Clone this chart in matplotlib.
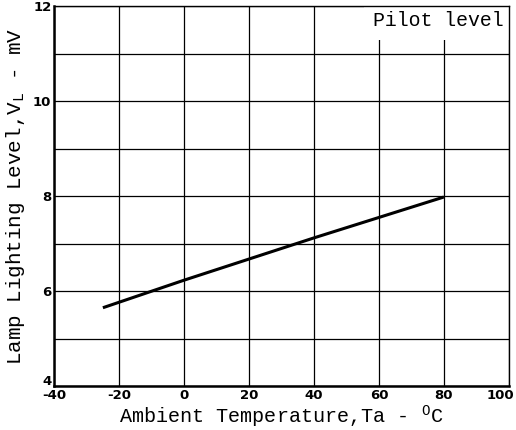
import numpy as np
import matplotlib
matplotlib.use("Agg")
import matplotlib.pyplot as plt
from matplotlib import transforms

# data
temp_c = [-25, 0, 40, 80]
lamp_mv = [5.65, 6.23, 7.12, 7.98]

x_ticks = [-40, -20, 0, 20, 40, 60, 80, 100]
x_labels = ["-40", "-20", "0", "20", "40", "60", "80", "100"]
y_ticks = [4, 6, 8, 10, 12]
y_grid = [4, 5, 6, 7, 8, 9, 10, 11, 12]

plt.rcParams['mathtext.default'] = 'regular'
mono = "Liberation Mono"

fig = plt.figure(figsize=(5.16, 4.30), dpi=100)
ax = fig.add_axes([0.105, 0.102, 0.881, 0.884])

ax.plot(temp_c, lamp_mv, color='black', lw=2.2, solid_capstyle='butt', zorder=3)

ax.set_xlim(-40, 100)
ax.set_ylim(4, 12)
ax.set_xticks(x_ticks)
ax.set_xticklabels(x_labels)
ax.set_yticks(y_ticks)
ax.set_yticks(y_grid, minor=True)
ax.grid(True, which='both', axis='y', color='black', lw=0.9)
ax.grid(True, which='major', axis='x', color='black', lw=0.9)
ax.tick_params(which='both', length=0, pad=2)
for lab in ax.get_xticklabels() + ax.get_yticklabels():
    lab.set_fontweight('bold')
    lab.set_fontsize(9.5)
    lab.set_fontfamily('DejaVu Sans')

# nudge the corner labels like in the original print
xl = ax.get_xticklabels()
xl[-1].set_transform(xl[-1].get_transform() + transforms.ScaledTranslation(-8 / 100, 0, fig.dpi_scale_trans))
yl = ax.get_yticklabels()
yl[0].set_transform(yl[0].get_transform() + transforms.ScaledTranslation(0, 6 / 100, fig.dpi_scale_trans))

for s in ax.spines.values():
    s.set_linewidth(1.0)
ax.spines['left'].set_linewidth(1.8)
ax.spines['bottom'].set_linewidth(1.8)

# white box behind the label hides the grid lines, but sits under the spines
ax.text(98.5, 11.7, "Pilot level", family=mono, fontsize=14.3, ha='right', va='center',
        zorder=2, bbox=dict(facecolor='white', edgecolor='none', pad=7))

ax.set_xlabel("Ambient Temperature,Ta - $^{O}$C", family=mono, fontsize=14.5, labelpad=1)
ax.set_ylabel("Lamp Lighting Level,V$_{L}$ - mV", family=mono, fontsize=15, labelpad=4)

fig.savefig("out.png", dpi=100)
